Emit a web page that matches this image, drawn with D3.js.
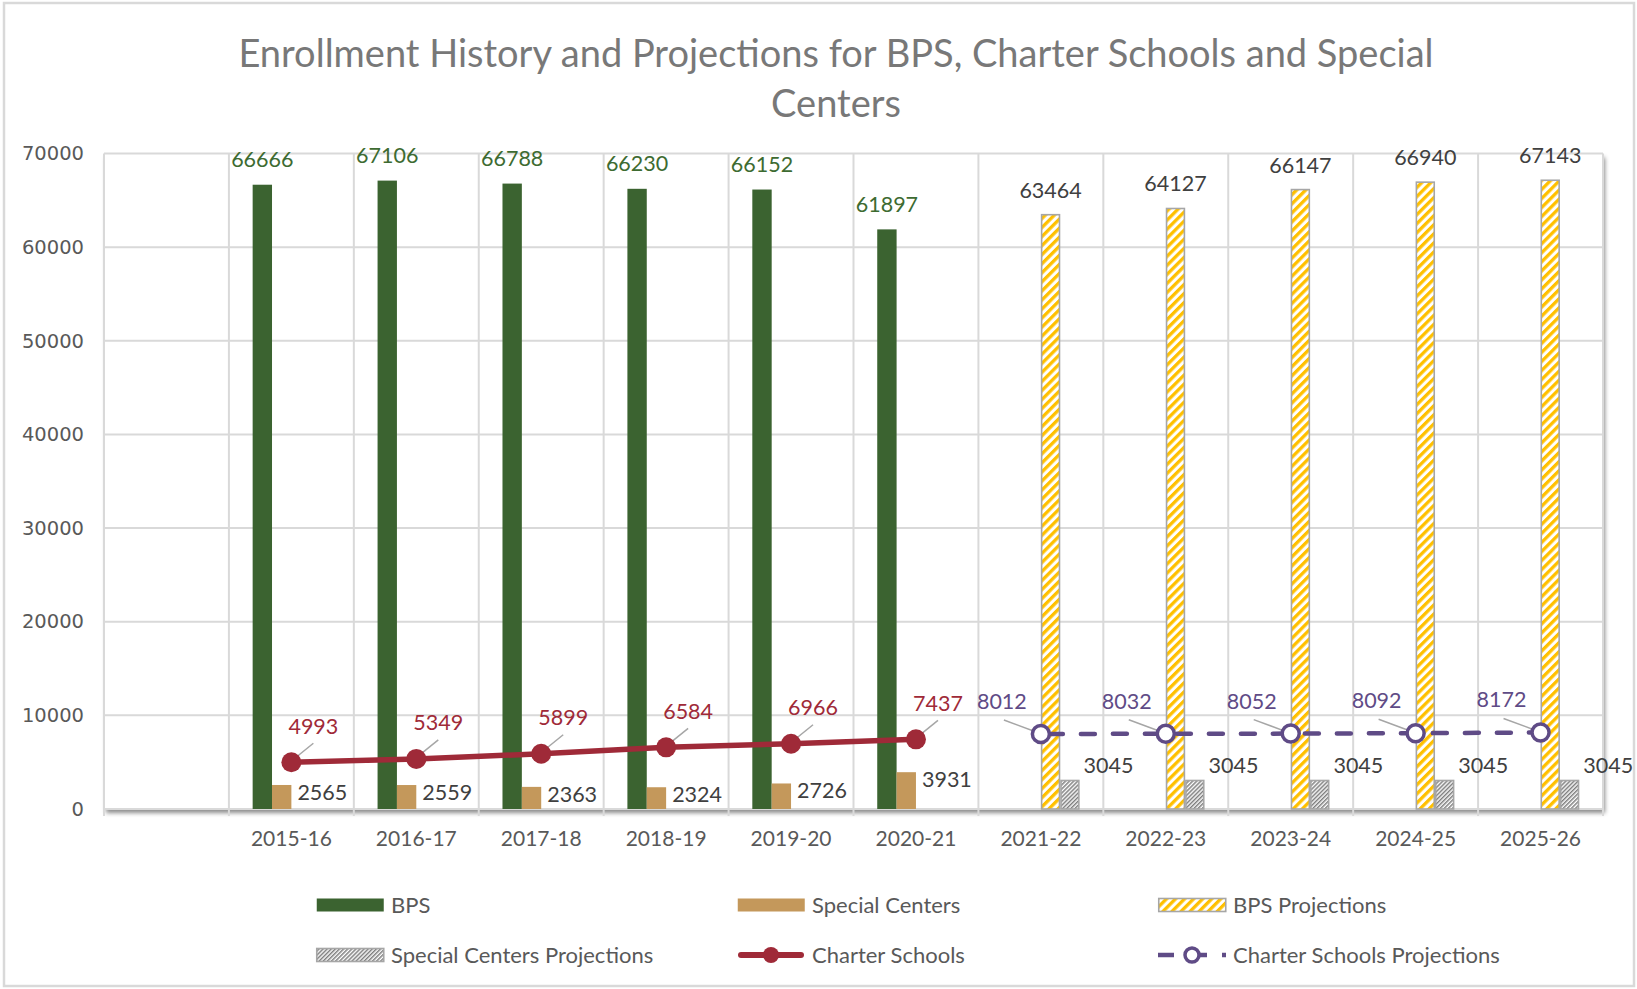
<!DOCTYPE html>
<html>
<head>
<meta charset="utf-8">
<script src="https://cdn.jsdelivr.net/npm/d3@7"></script>
<style>
  html, body { margin: 0; padding: 0; background: #fff; }
  svg { display: block; }
</style>
</head>
<body>
<svg id="chart" width="1637" height="989"></svg>
<script>
// ---------------- DATA ----------------
const categories = ["", "2015-16", "2016-17", "2017-18", "2018-19", "2019-20", "2020-21",
                    "2021-22", "2022-23", "2023-24", "2024-25", "2025-26"];
const bps              = [null, 66666, 67106, 66788, 66230, 66152, 61897, null, null, null, null, null];
const specialCenters   = [null, 2565, 2559, 2363, 2324, 2726, 3931, null, null, null, null, null];
const bpsProjections   = [null, null, null, null, null, null, null, 63464, 64127, 66147, 66940, 67143];
const specialCentersProjections = [null, null, null, null, null, null, null, 3045, 3045, 3045, 3045, 3045];
const charterSchools   = [null, 4993, 5349, 5899, 6584, 6966, 7437, null, null, null, null, null];
const charterSchoolsProjections = [null, null, null, null, null, null, null, 8012, 8032, 8052, 8092, 8172];
const yTicks = [0, 10000, 20000, 30000, 40000, 50000, 60000, 70000];
const barSeries = ["BPS", "Special Centers", "BPS Projections", "Special Centers Projections"];
const titleLines = ["Enrollment History and Projections for BPS, Charter Schools and Special", "Centers"];

// ---------------- SETUP ----------------
const svg = d3.select("#chart");
const plot = { left: 104, right: 1603, top: 153.5, bottom: 809 };

const x = d3.scaleBand().domain(categories).range([plot.left, plot.right]).paddingInner(0).paddingOuter(0);
const y = d3.scaleLinear().domain([0, 70000]).range([plot.bottom, plot.top]);
const bw = x.bandwidth();
const barW = bw * 0.155;
const xs = d3.scaleBand().domain(barSeries).range([-2 * barW, 2 * barW]).padding(0);

const C = {
  green: "#3b6330", tan: "#c4985b", yellow: "#ffc000", hatchGray: "#7f7f7f",
  red: "#9f2a38", purple: "#5f4b86", grid: "#d9d9d9", axisText: "#595959",
  greenLabel: "#3d6b31", darkLabel: "#404040", leader: "#a6a6a6", border: "#a6a6a6"
};
const FONT = "Lato, 'Open Sans', sans-serif";

const defs = svg.append("defs");
const pY = defs.append("pattern").attr("id", "hatchYellow").attr("patternUnits", "userSpaceOnUse")
  .attr("width", 6.4).attr("height", 6.4).attr("patternTransform", "rotate(45)");
pY.append("rect").attr("width", 6.4).attr("height", 6.4).attr("fill", "#fff");
pY.append("rect").attr("width", 3.3).attr("height", 6.4).attr("fill", C.yellow);
const pG = defs.append("pattern").attr("id", "hatchGray").attr("patternUnits", "userSpaceOnUse")
  .attr("width", 2.9).attr("height", 2.9).attr("patternTransform", "rotate(45)");
pG.append("rect").attr("width", 2.9).attr("height", 2.9).attr("fill", "#fff");
pG.append("rect").attr("width", 1.5).attr("height", 2.9).attr("fill", C.hatchGray);

const shadow = defs.append("filter").attr("id", "plotShadow")
  .attr("x", "-5%").attr("y", "-5%").attr("width", "110%").attr("height", "110%");
shadow.append("feDropShadow").attr("dx", 2).attr("dy", 4).attr("stdDeviation", 2.2)
  .attr("flood-color", "#000").attr("flood-opacity", 0.45);

// Chart background & border
svg.append("rect").attr("x", 4).attr("y", 3).attr("width", 1630).attr("height", 983)
  .attr("fill", "#fff").attr("stroke", C.grid).attr("stroke-width", 2.5);

// Title
svg.append("g").selectAll("text").data(titleLines).join("text")
  .attr("x", 836).attr("y", (d, i) => 67 + i * 50)
  .attr("text-anchor", "middle").attr("fill", "#787878")
  .style("font-family", FONT).style("font-size", "38px").style("font-weight", 400)
  .text(d => d);

// Plot area with shadow
svg.append("rect").attr("x", plot.left).attr("y", plot.top)
  .attr("width", plot.right - plot.left).attr("height", plot.bottom - plot.top)
  .attr("fill", "#fff").attr("filter", "url(#plotShadow)");

// Gridlines
const grid = svg.append("g");
grid.selectAll("line.h").data(yTicks).join("line").attr("class", "h")
  .attr("x1", plot.left).attr("x2", plot.right)
  .attr("y1", d => y(d)).attr("y2", d => y(d))
  .attr("stroke", C.grid).attr("stroke-width", 2);
const boundaries = categories.map(c => x(c)).concat([plot.right]);
grid.selectAll("line.v").data(boundaries).join("line").attr("class", "v")
  .attr("x1", d => d).attr("x2", d => d)
  .attr("y1", plot.top).attr("y2", plot.bottom + 7)
  .attr("stroke", C.grid).attr("stroke-width", 2);

// Y axis labels
const yAxis = svg.append("g").attr("transform", `translate(${plot.left - 20},0)`)
  .call(d3.axisLeft(y).tickValues(yTicks).tickSize(0).tickPadding(0).tickFormat(d3.format("d")));
yAxis.select(".domain").remove();
yAxis.selectAll("text").attr("fill", C.axisText)
  .style("font-family", "'DejaVu Sans', Verdana, sans-serif").style("font-size", "19.5px");

// X axis labels
const xAxis = svg.append("g").attr("transform", `translate(0,${plot.bottom})`)
  .call(d3.axisBottom(x).tickSize(0).tickPadding(22));
xAxis.select(".domain").remove();
xAxis.selectAll("text").attr("fill", C.axisText)
  .style("font-family", FONT).style("font-size", "21px");

// ---------------- BARS ----------------
const barData = [
  { name: "BPS", values: bps, fill: C.green, stroke: "none" },
  { name: "Special Centers", values: specialCenters, fill: C.tan, stroke: "none" },
  { name: "BPS Projections", values: bpsProjections, fill: "url(#hatchYellow)", stroke: C.border },
  { name: "Special Centers Projections", values: specialCentersProjections, fill: "url(#hatchGray)", stroke: C.border }
];
const barsG = svg.append("g");
barData.forEach(s => {
  const pts = categories.map((c, i) => ({ c, v: s.values[i] })).filter(d => d.v != null);
  barsG.append("g").selectAll("rect").data(pts).join("rect")
    .attr("x", d => x(d.c) + bw / 2 + xs(s.name) + (s.stroke !== "none" ? 0.75 : 0))
    .attr("width", xs.bandwidth() - (s.stroke !== "none" ? 1.5 : 0))
    .attr("y", d => y(d.v))
    .attr("height", d => y(0) - y(d.v))
    .attr("fill", s.fill).attr("stroke", s.stroke).attr("stroke-width", 1.6);
});

// ---------------- LINES ----------------
const lineGen = d3.line().x(d => x(d.c) + bw / 2).y(d => y(d.v));
const chartPts = categories.map((c, i) => ({ c, v: charterSchools[i] })).filter(d => d.v != null);
const projPts = categories.map((c, i) => ({ c, v: charterSchoolsProjections[i] })).filter(d => d.v != null);

svg.append("path").datum(chartPts).attr("d", lineGen)
  .attr("fill", "none").attr("stroke", C.red).attr("stroke-width", 5.5).attr("stroke-linecap", "round");
svg.append("path").datum(projPts).attr("d", lineGen)
  .attr("fill", "none").attr("stroke", C.purple).attr("stroke-width", 4.5)
  .attr("stroke-dasharray", "14,18").attr("stroke-dashoffset", -8).attr("stroke-linecap", "round");

// Leader lines
const leaders = svg.append("g");
leaders.selectAll("line.r").data(chartPts).join("line").attr("class", "r")
  .attr("x1", d => x(d.c) + bw / 2 + 1).attr("y1", d => y(d.v) - 2)
  .attr("x2", d => x(d.c) + bw / 2 + 22).attr("y2", d => y(d.v) - 19)
  .attr("stroke", C.leader).attr("stroke-width", 1.5);
leaders.selectAll("line.p").data(projPts).join("line").attr("class", "p")
  .attr("x1", d => x(d.c) + bw / 2 - 37).attr("y1", d => y(d.v) - 14)
  .attr("x2", d => x(d.c) + bw / 2 - 2).attr("y2", d => y(d.v) - 1)
  .attr("stroke", C.leader).attr("stroke-width", 1.5);

// Markers
svg.append("g").selectAll("circle").data(chartPts).join("circle")
  .attr("cx", d => x(d.c) + bw / 2).attr("cy", d => y(d.v)).attr("r", 10)
  .attr("fill", C.red);
svg.append("g").selectAll("circle").data(projPts).join("circle")
  .attr("cx", d => x(d.c) + bw / 2).attr("cy", d => y(d.v)).attr("r", 8.5)
  .attr("fill", "#fff").attr("stroke", C.purple).attr("stroke-width", 3.5);

// ---------------- DATA LABELS ----------------
const lbl = svg.append("g").style("font-family", FONT).style("font-size", "21.5px");
function ptsOf(arr) { return categories.map((c, i) => ({ c, v: arr[i] })).filter(d => d.v != null); }
lbl.append("g").selectAll("text").data(ptsOf(bps)).join("text")
  .attr("x", d => x(d.c) + bw / 2 + xs("BPS") + barW / 2).attr("y", d => y(d.v) - 17.5)
  .attr("text-anchor", "middle").attr("fill", C.greenLabel).text(d => d.v);
lbl.append("g").selectAll("text").data(ptsOf(bpsProjections)).join("text")
  .attr("x", d => x(d.c) + bw / 2 + xs("BPS Projections") + barW / 2).attr("y", d => y(d.v) - 17)
  .attr("text-anchor", "middle").attr("fill", C.darkLabel).text(d => d.v);
lbl.append("g").selectAll("text").data(ptsOf(specialCenters)).join("text")
  .attr("x", d => x(d.c) + bw / 2 + 6).attr("y", d => y(d.v) + 15)
  .attr("fill", C.darkLabel).text(d => d.v);
lbl.append("g").selectAll("text").data(ptsOf(specialCentersProjections)).join("text")
  .attr("x", d => x(d.c) + bw / 2 + 2 * barW + 4).attr("y", d => y(d.v) - 7)
  .attr("fill", C.darkLabel).text(d => d.v);
lbl.append("g").selectAll("text").data(chartPts).join("text")
  .attr("x", d => x(d.c) + bw / 2 + 22).attr("y", d => y(d.v) - 28.5)
  .attr("text-anchor", "middle").attr("fill", C.red).text(d => d.v);
lbl.append("g").selectAll("text").data(projPts).join("text")
  .attr("x", d => x(d.c) + bw / 2 - 39).attr("y", d => y(d.v) - 25)
  .attr("text-anchor", "middle").attr("fill", C.purple).text(d => d.v);

// ---------------- LEGEND ----------------
const legendItems = [
  { name: "BPS", type: "rect", fill: C.green },
  { name: "Special Centers", type: "rect", fill: C.tan },
  { name: "BPS Projections", type: "rect", fill: "url(#hatchYellow)", stroke: C.border },
  { name: "Special Centers Projections", type: "rect", fill: "url(#hatchGray)", stroke: C.border },
  { name: "Charter Schools", type: "line" },
  { name: "Charter Schools Projections", type: "dash" }
];
const colX = [316, 737, 1158];
const rowY = [905, 955];
const leg = svg.append("g");
legendItems.forEach((it, i) => {
  const gx = colX[i % 3], gy = rowY[Math.floor(i / 3)];
  const g = leg.append("g").attr("transform", `translate(${gx},${gy})`);
  if (it.type === "rect") {
    g.append("rect").attr("x", 0.75).attr("y", -6.5).attr("width", 67).attr("height", 13)
      .attr("fill", it.fill).attr("stroke", it.stroke || "none").attr("stroke-width", 1.6);
  } else if (it.type === "line") {
    g.append("line").attr("x1", 4).attr("x2", 64).attr("y1", 0).attr("y2", 0)
      .attr("stroke", C.red).attr("stroke-width", 6).attr("stroke-linecap", "round");
    g.append("circle").attr("cx", 34).attr("cy", 0).attr("r", 8).attr("fill", C.red);
  } else {
    g.append("line").attr("x1", 0).attr("x2", 68).attr("y1", 0).attr("y2", 0)
      .attr("stroke", C.purple).attr("stroke-width", 4.5)
      .attr("stroke-dasharray", "16,11,22,15,4");
    g.append("circle").attr("cx", 34).attr("cy", 0).attr("r", 7).attr("fill", "#fff")
      .attr("stroke", C.purple).attr("stroke-width", 3.5);
  }
  g.append("text").attr("x", 75).attr("y", 0).attr("dy", "0.35em")
    .attr("fill", C.axisText).style("font-family", FONT).style("font-size", "22px")
    .text(it.name);
});
</script>
</body>
</html>
